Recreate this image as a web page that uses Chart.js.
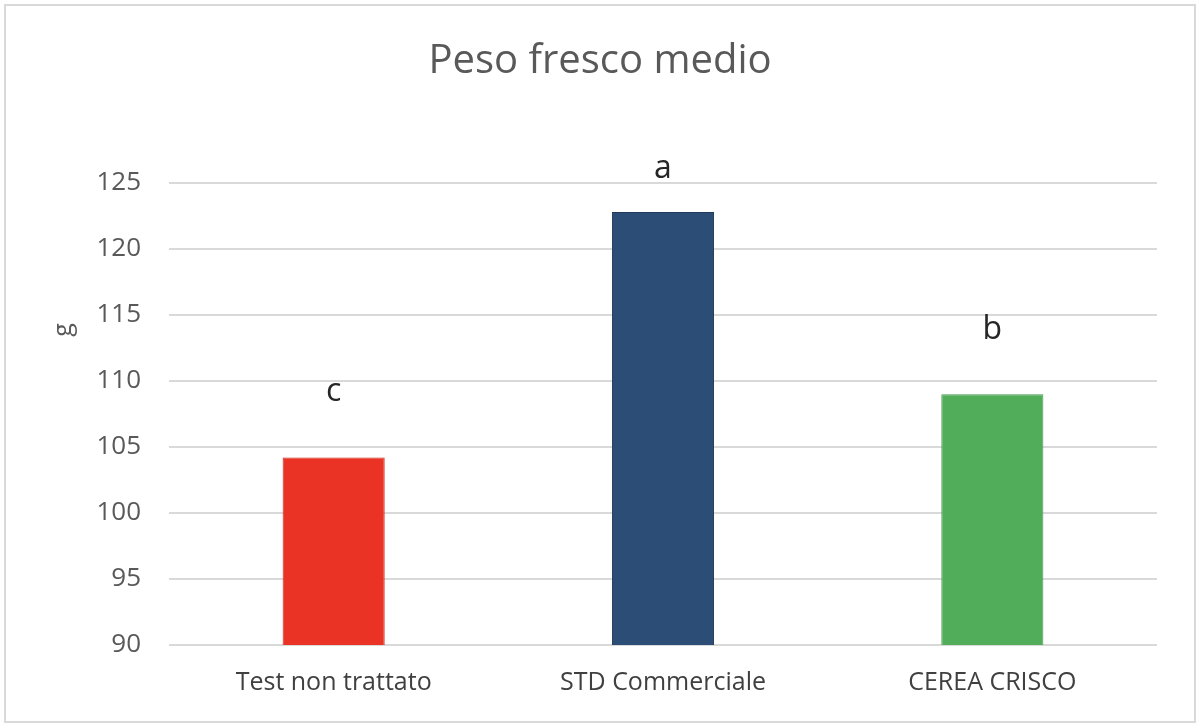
<!DOCTYPE html>
<html>
<head>
<meta charset="utf-8">
<script src="https://cdn.jsdelivr.net/npm/chart.js@4/dist/chart.umd.min.js"></script>
<style>
  html, body { margin: 0; padding: 0; background: #fff; }
  #wrap { width: 1200px; height: 727px; position: relative; }
</style>
</head>
<body>
<div id="wrap"><canvas id="myChart" width="1200" height="727"></canvas></div>
<script>
// values
const categories = ["Test non trattato", "STD Commerciale", "CEREA CRISCO"];
const pesoMedio = [104.2, 122.8, 109.0];
const letters = ["c", "a", "b"];
const letterLevels = [109.2, 126.1, 113.9]; // where the letters sit, in g
const barColors = ["#ea3324", "#2c4d76", "#52ad5b"];
const barBorders = ["#c92a1e", "#1f3a5d", "#47994f"];
const unitLabel = "g";

// light frame around the whole chart
const framePlugin = {
    id: 'frame',
    beforeDraw(chart) {
        const ctx = chart.ctx;
        ctx.save();
        ctx.fillStyle = '#ffffff';
        ctx.fillRect(0, 0, chart.width, chart.height);
        ctx.strokeStyle = '#d9d9d9';
        ctx.lineWidth = 2;
        ctx.strokeRect(5, 5, chart.width - 10, chart.height - 10);
        ctx.restore();
    }
};

// significance letters above the bars + the unit title (sits high, like Excel put it)
const lettersPlugin = {
    id: 'letters',
    afterDatasetsDraw(chart) {
        const ctx = chart.ctx;
        const meta = chart.getDatasetMeta(0);
        const yScale = chart.scales.y;
        ctx.save();
        ctx.font = '32px "Open Sans"';
        ctx.fillStyle = '#262626';
        ctx.textAlign = 'center';
        ctx.textBaseline = 'middle';
        meta.data.forEach(function(bar, i) {
            ctx.fillText(letters[i], bar.x, yScale.getPixelForValue(letterLevels[i]));
        });

        ctx.translate(yScale.left + 33, chart.chartArea.top + 147);
        ctx.rotate(-Math.PI / 2);
        ctx.font = '25px "Open Sans"';
        ctx.fillStyle = '#595959';
        ctx.fillText(unitLabel, 0, 0);
        ctx.restore();
    }
};

const ctx = document.getElementById('myChart').getContext('2d');
new Chart(ctx, {
    type: 'bar',
    data: {
        labels: categories,
        datasets: [{
            data: pesoMedio,
            backgroundColor: barColors,
            borderColor: barBorders,
            borderWidth: 1,
            borderSkipped: 'bottom',
            categoryPercentage: 1.0,
            barPercentage: 0.31
        }]
    },
    options: {
        responsive: false,
        animation: false,
        devicePixelRatio: 1,
        layout: { padding: { left: 31, right: 31, top: 0, bottom: 29 } },
        plugins: {
            legend: { display: false },
            tooltip: { enabled: false },
            title: {
                display: true,
                text: 'Peso fresco medio',
                color: '#595959',
                font: { family: '"Open Sans"', size: 40, weight: 'normal', lineHeight: 1.2 },
                padding: { top: 38, bottom: 97 }
            }
        },
        scales: {
            x: {
                grid: { display: false },
                border: { display: false },
                ticks: {
                    color: '#404040',
                    padding: 15,
                    font: { family: '"Open Sans"', size: 25, lineHeight: 1.2 }
                },
                afterFit(scale) { scale.height = 53; }
            },
            y: {
                min: 90,
                max: 125,
                border: { display: false },
                grid: { color: '#d9d9d9', lineWidth: 2, drawTicks: false },
                ticks: {
                    stepSize: 5,
                    color: '#595959',
                    padding: 28,
                    font: { family: '"Open Sans"', size: 26, lineHeight: 1.2 }
                },
                afterFit(scale) { scale.width = 138; }
            },
            // empty strip on the right so the plot ends where the reference does
            yRight: {
                position: 'right',
                display: true,
                grid: { display: false },
                border: { display: false },
                ticks: { display: false },
                afterFit(scale) { scale.width = 12; }
            }
        }
    },
    plugins: [framePlugin, lettersPlugin]
});
</script>
</body>
</html>
